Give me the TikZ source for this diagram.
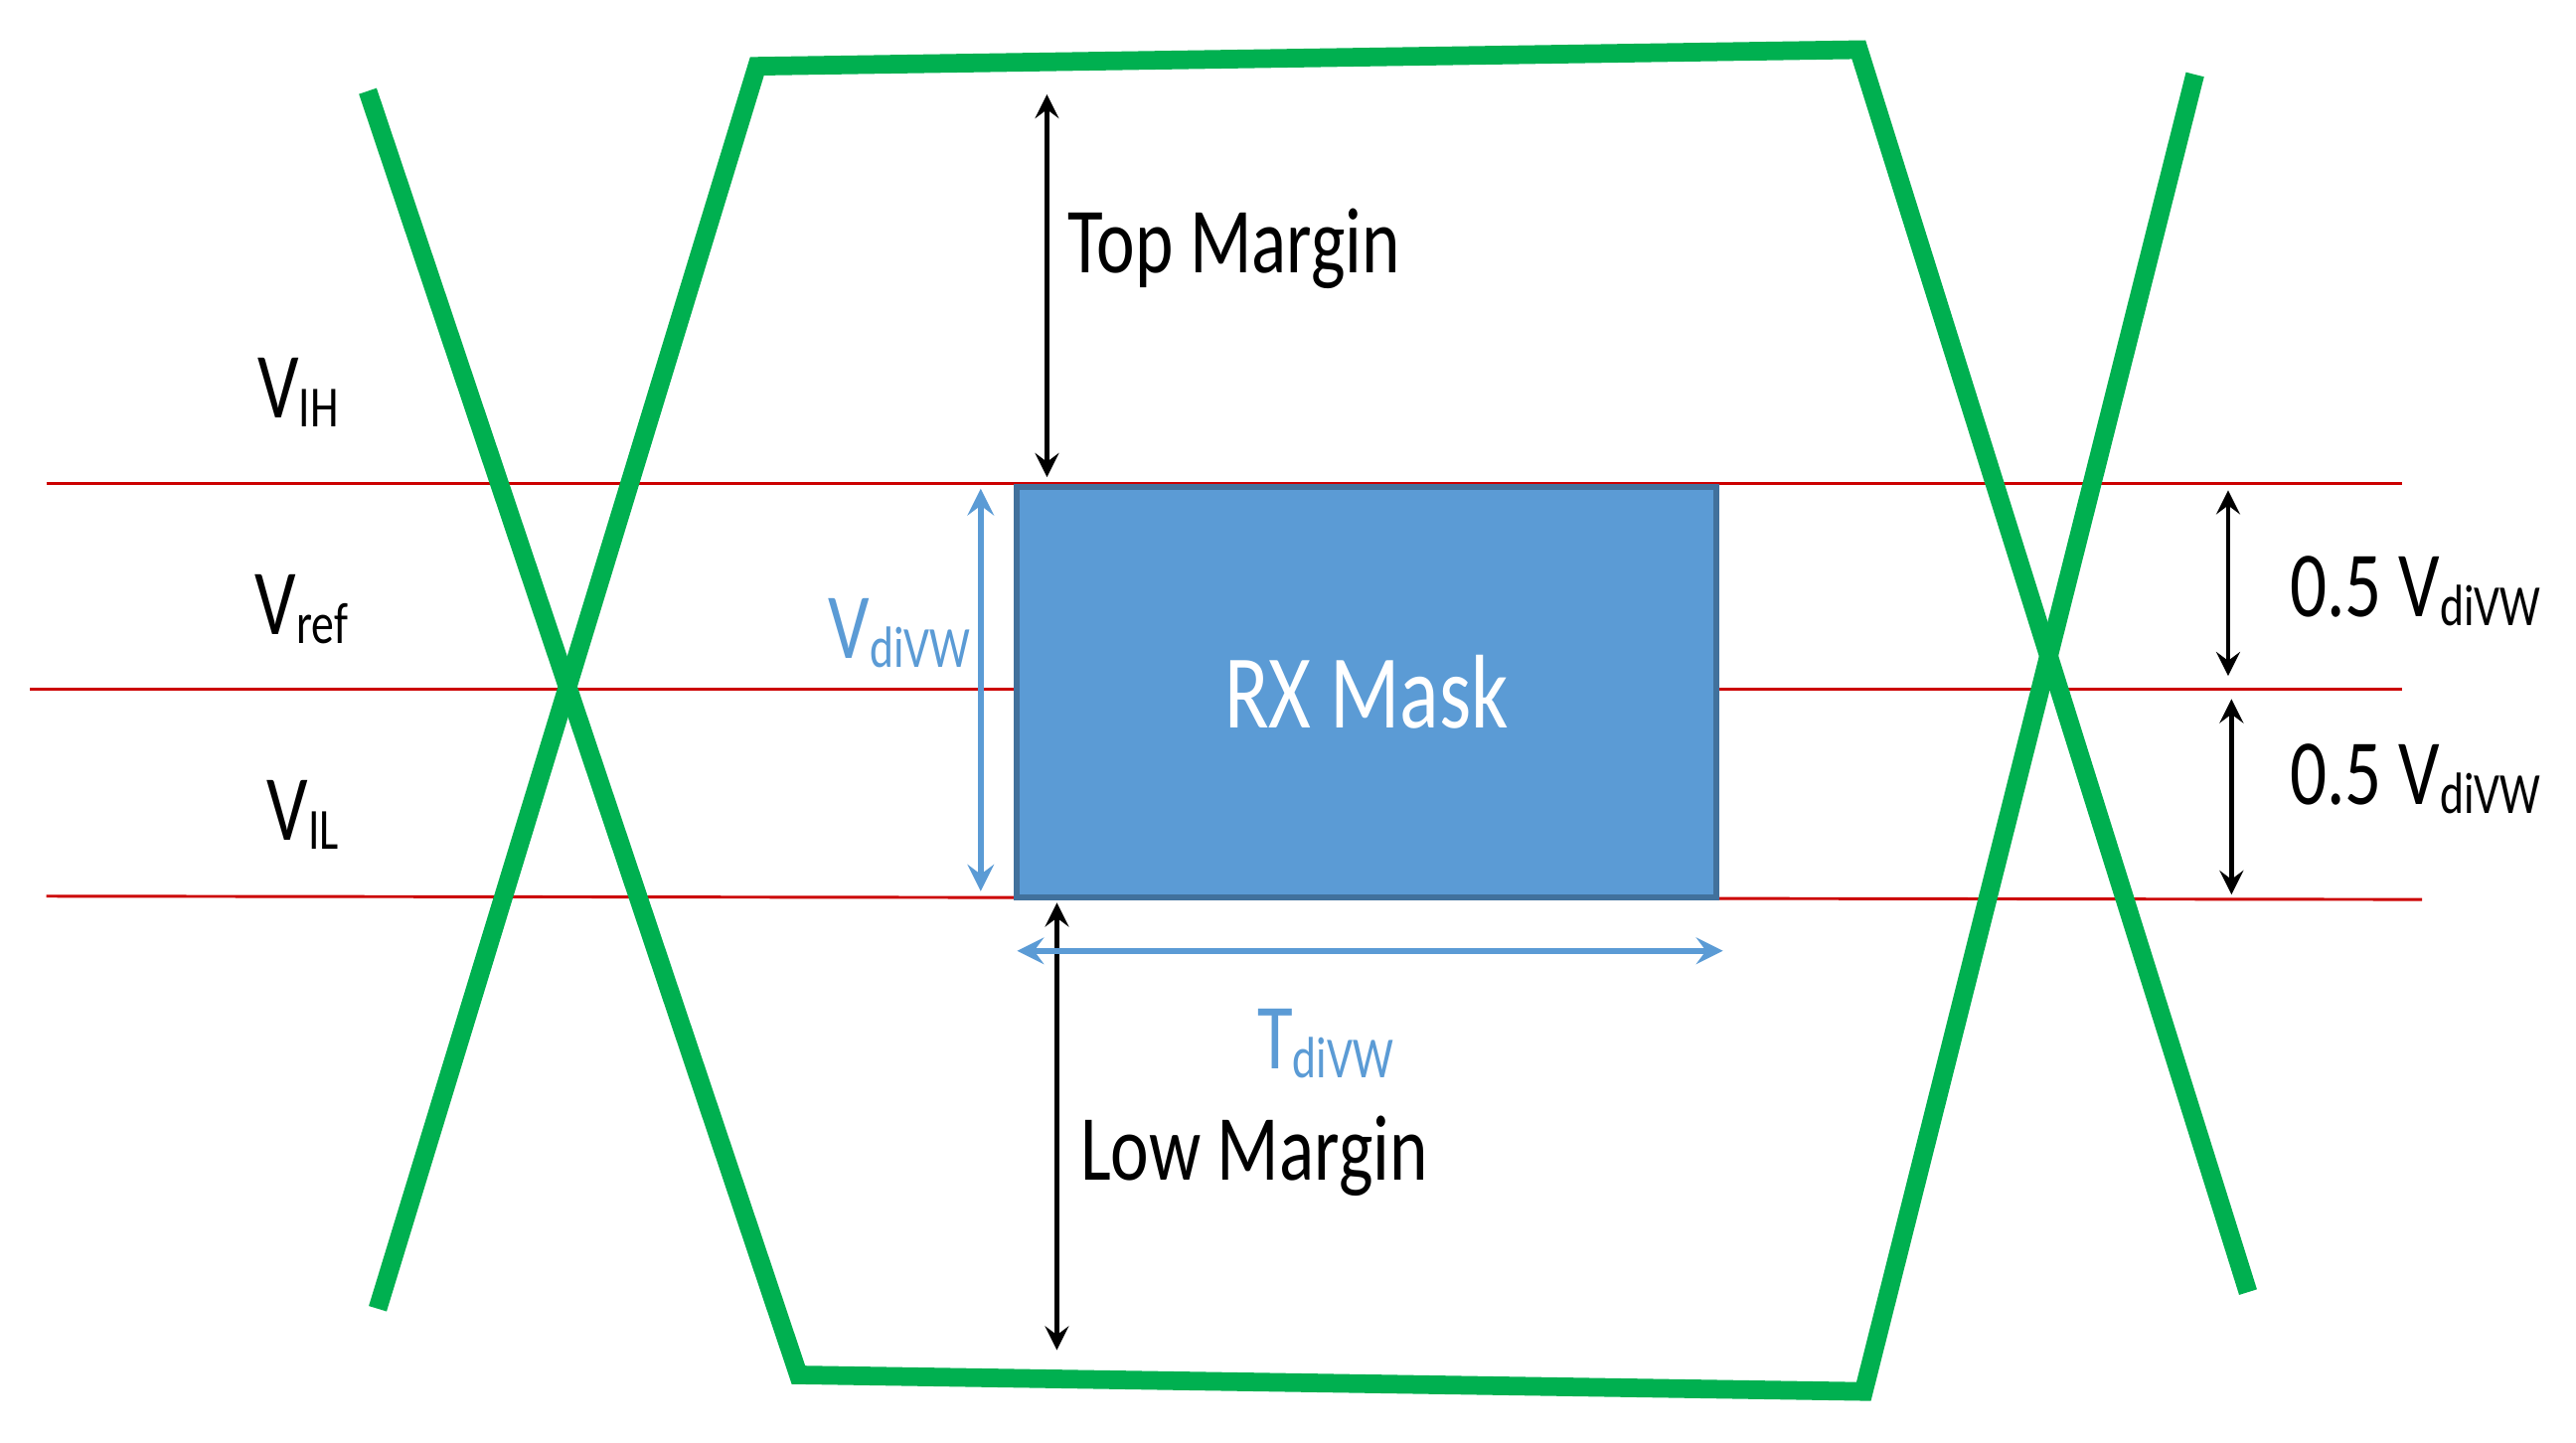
\documentclass[tikz,border=0pt]{standalone}
\usepackage{fontspec}
\setmainfont{Carlito}[FakeStretch=0.78]
\newcommand{\mysub}[1]{\raisebox{-0.2ex}{\fontsize{10}{10}\selectfont #1}}
\definecolor{eyegreen}{HTML}{00B050}
\definecolor{maskblue}{HTML}{5B9BD5}
\definecolor{maskedge}{HTML}{41719C}
\definecolor{lblblue}{HTML}{5B9BD5}
\begin{document}
\begin{tikzpicture}[x=0.01cm,y=-0.01cm,
  eye/.style={draw=eyegreen,line width=3.2pt},
  refline/.style={draw=red!80!black,line width=0.5pt},
  blackarrow/.style={<->,>=stealth,line width=0.8pt},
  bluearrow/.style={<->,>=stealth,draw=lblblue,line width=1pt},
  lbl/.style={font=\fontsize{16}{16}\selectfont,inner sep=0pt},
  bluelbl/.style={lbl,text=lblblue}]
\useasboundingbox (0,0) rectangle (1555,871);
% reference lines
\draw[refline] (28,292) -- (1450,292);
\draw[refline] (18,416) -- (1450,416);
\draw[refline] (28,541) -- (1462,543);
% mask
\node[draw=maskedge,fill=maskblue,line width=1pt,minimum width=4.22cm,minimum height=2.48cm,inner sep=0pt,anchor=north west] (mask) at (612,292) {};
\node[text=white,font=\fontsize{18}{18}\selectfont] (rx) at (mask.center) {RX Mask};
% eye
\coordinate (tl) at (457,40);
\coordinate (tr) at (1122,30);
\coordinate (bl) at (482,830);
\coordinate (br) at (1125,840);
\coordinate (la) at (222,55);
\coordinate (lb) at (228,790);
\coordinate (ra) at (1325,45);
\coordinate (rb) at (1357,780);
\draw[eye,line join=miter] (lb) -- (tl) -- (tr) -- (rb);
\draw[eye,line join=miter] (la) -- (bl) -- (br) -- (ra);
% arrows
\coordinate (tm1) at (632,57); \coordinate (tm2) at (632,288);
\draw[blackarrow] (tm1) -- (tm2);
\node[lbl] (toplbl) at (745,150) {Top Margin};
\coordinate (lm1) at (638,545); \coordinate (lm2) at (638,815);
\draw[blackarrow] (lm1) -- (lm2);
\node[lbl] (lowlbl) at (757,698) {Low Margin};
\coordinate (v1) at (592,295); \coordinate (v2) at (592,538);
\draw[bluearrow] (v1) -- (v2);
\node[bluelbl] (vdivw) at (543,382) {V\mysub{diVW}};
\coordinate (t1) at (614,574); \coordinate (t2) at (1040,574);
\draw[bluearrow] (t1) -- (t2);
\node[bluelbl] (tdivw) at (800,630) {T\mysub{diVW}};
\coordinate (r1) at (1345,296); \coordinate (r2) at (1345,408);
\draw[blackarrow] (r1) -- (r2);
\coordinate (r3) at (1347,422); \coordinate (r4) at (1347,540);
\draw[blackarrow] (r3) -- (r4);
\node[lbl] (h1) at (1458,357) {0.5 V\mysub{diVW}};
\node[lbl] (h2) at (1458,470) {0.5 V\mysub{diVW}};
\node[lbl] (vih) at (180,237) {V\mysub{IH}};
\node[lbl] (vref) at (182,368) {V\mysub{ref}};
\node[lbl] (vil) at (183,492) {V\mysub{IL}};
\end{tikzpicture}
\end{document}
